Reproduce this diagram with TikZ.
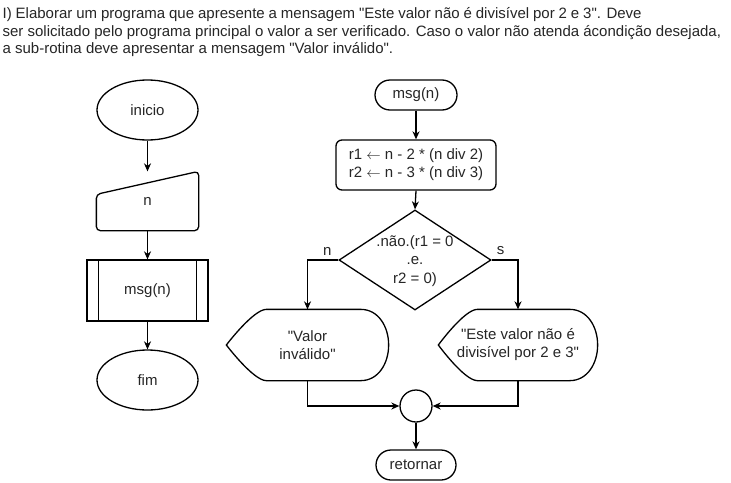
\documentclass[tikz,border=0pt]{standalone}
\usepackage{fontspec}
\setmainfont{Liberation Sans}[Ligatures=TeXOff]
\usetikzlibrary{shapes.geometric,arrows.meta,calc}
\begin{document}
\begin{tikzpicture}[x=1pt,y=-1pt,
  line width=1.3pt,
  txt/.style={font=\fontsize{15}{18}\selectfont, text=black!85, align=center, inner sep=0pt},
  ttl/.style={font=\fontsize{15}{18}\selectfont, text=black!85, inner sep=0pt, anchor=base west},
  term/.style={txt, draw, ellipse, minimum width=101pt, minimum height=60pt},
  pill/.style={txt, draw, rectangle, rounded corners=15pt, minimum height=30pt},
  proc/.style={txt, draw, rectangle, rounded corners=6pt, minimum width=160pt, minimum height=50pt},
  box/.style={txt, minimum width=#1, minimum height=70pt},
  arr/.style={-{Stealth[length=8pt,width=7pt,inset=2.5pt]}, line width=1.3pt},
  lbl/.style={font=\fontsize{15}{18}\selectfont, text=black!85, inner sep=0pt}
]
\fill[white] (0,0) rectangle (731,482);
\useasboundingbox (0,0) rectangle (731,482);

% title
\node[ttl] (t1) at (2,18) {\makebox[639pt][s]{I) Elaborar um programa que apresente a mensagem "Este valor não é divisível por 2 e 3". Deve}};
\node[ttl] (t2) at (2,36) {ser solicitado pelo programa principal o valor a ser verificado. Caso o valor não atenda ácondição desejada,};
\node[ttl] (t3) at (2,53) {a sub-rotina deve apresentar a mensagem "Valor inválido".};

% left column
\node[term] (ini) at (147.5,110) {inicio};
\node[txt, minimum width=101pt, minimum height=58pt] (nin) at (147.5,201) {n};
\draw[rounded corners=4pt] ($(nin.north west)+(0,23)$) -- (nin.north east) -- (nin.south east) -- (nin.south west) -- cycle;
\node[txt, draw, minimum width=121pt, minimum height=61pt] (sub) at (147.5,290.5) {msg(n)};
\draw ($(sub.north west)+(12,0)$) -- ($(sub.south west)+(12,0)$);
\draw ($(sub.north east)+(-12,0)$) -- ($(sub.south east)+(-12,0)$);
\node[term] (fim) at (147.5,380) {fim};

\draw[arr] (ini.south) -- (nin.north);
\draw[arr] (nin.south) -- (sub.north);
\draw[arr] (sub.south) -- (fim.north);

% right column
\node[pill, minimum width=82pt] (msg) at (416,95) {msg(n)};
\node[proc] (pr) at (416,165) {r1 $\leftarrow$ n - 2 * (n div 2)\\r2 $\leftarrow$ n - 3 * (n div 3)};
\node[draw, diamond, aspect=1.52, minimum width=152pt, minimum height=100pt, inner sep=0pt] (dia) at (415,260) {};
\node[txt, font=\fontsize{15}{18.5}\selectfont] (diat) at (415,261) {.não.(r1 = 0\\.e.\\r2 = 0)};

\node[box=161pt] (dl) at (307.5,345) {"Valor\\inválido"};
\draw (dl.west) .. controls (dl.west) and ($(dl.north west)+(27,0)$) .. ($(dl.north west)+(40,0)$)
  -- ($(dl.north east)+(-28,0)$) .. controls ($(dl.north east)+(-10,0)$) and ($(dl.east)+(0,-18)$) .. (dl.east)
  .. controls ($(dl.east)+(0,18)$) and ($(dl.south east)+(-10,0)$) .. ($(dl.south east)+(-28,0)$)
  -- ($(dl.south west)+(40,0)$) .. controls ($(dl.south west)+(27,0)$) and (dl.west) .. (dl.west) -- cycle;

\node[box=158pt] (dr) at (518,345) {"Este valor não é\\divisível por 2 e 3"};
\draw (dr.west) .. controls (dr.west) and ($(dr.north west)+(26,0)$) .. ($(dr.north west)+(39,0)$)
  -- ($(dr.north east)+(-28,0)$) .. controls ($(dr.north east)+(-10,0)$) and ($(dr.east)+(0,-18)$) .. (dr.east)
  .. controls ($(dr.east)+(0,18)$) and ($(dr.south east)+(-10,0)$) .. ($(dr.south east)+(-28,0)$)
  -- ($(dr.south west)+(39,0)$) .. controls ($(dr.south west)+(26,0)$) and (dr.west) .. (dr.west) -- cycle;

\node[draw, circle, minimum size=32pt, inner sep=0pt] (cir) at (416,406) {};
\node[pill, minimum width=80pt] (ret) at (416,465) {retornar};

\draw[arr] (msg.south) -- (pr.north);
\draw[arr] (pr.south) -- (dia.north);
\draw[arr] (dia.west) -| (dl.north);
\draw[arr] (dia.east) -| (dr.north);
\node[lbl] (ln) at ($(dia.west)+(-11,-9)$) {n};
\node[lbl] (ls) at ($(dia.east)+(9,-9)$) {s};
\draw[arr] (dl.south) |- (cir.west);
\draw[arr] (dr.south) |- (cir.east);
\draw[arr] (cir.south) -- (ret.north);
\end{tikzpicture}
\end{document}
